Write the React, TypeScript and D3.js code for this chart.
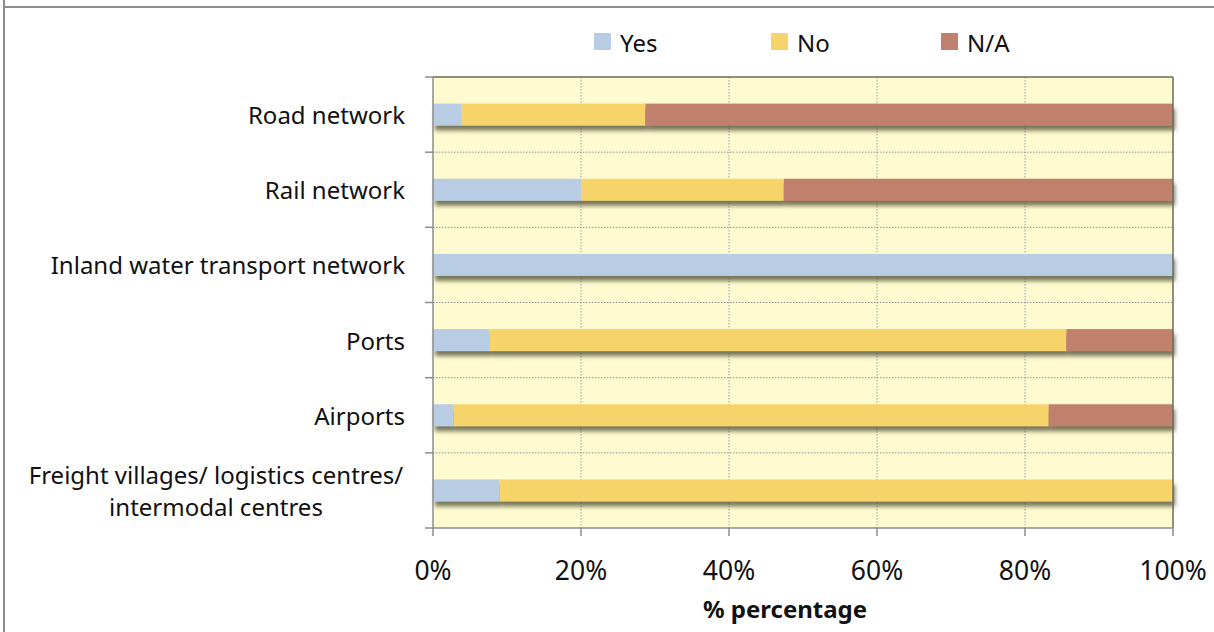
import React from "react";
import * as d3 from "d3";

const categories = [
  "Road network",
  "Rail network",
  "Inland water transport network",
  "Ports",
  "Airports",
  "Freight villages/ logistics centres/ intermodal centres",
];
const categoryLines: string[][] = [
  ["Road network"],
  ["Rail network"],
  ["Inland water transport network"],
  ["Ports"],
  ["Airports"],
  ["Freight villages/ logistics centres/", "intermodal centres"],
];
const seriesNames = ["Yes", "No", "N/A"];
const yesValues = [3.8, 20.0, 100, 7.6, 2.8, 9.0];
const noValues = [24.9, 27.4, 0, 78.0, 80.4, 91.0];
const naValues = [71.3, 52.6, 0, 14.4, 16.8, 0];
const xTicks = [0, 20, 40, 60, 80, 100];
const colors = ["#b8cce4", "#f6d46b", "#c0806e"];

const W = 1214;
const H = 632;
const M = { left: 433, right: 1173, top: 77, bottom: 528 };
const FONT = "'Noto Sans', sans-serif";

export default function App() {
  const x = d3.scaleLinear().domain([0, 100]).range([M.left, M.right]);
  const y = d3.scaleBand<string>().domain(categories).range([M.top, M.bottom]);
  const rows = categories.map((c, i) => ({
    cat: c,
    Yes: yesValues[i],
    No: noValues[i],
    "N/A": naValues[i],
  }));
  const stacked = d3.stack<any>().keys(seriesNames)(rows);
  const barH = 22;
  const boundaries = categories.map((c) => y(c)!).concat([M.bottom]);

  return (
    <svg
      width={W}
      height={H}
      style={{ position: "absolute", left: 0, top: 0, background: "#fff" }}
      fontFamily={FONT}
    >
      <defs>
        <filter id="shadow" x="-5%" y="-50%" width="110%" height="200%">
          <feDropShadow dx="2" dy="5" stdDeviation="2" floodColor="#4a4a30" floodOpacity="0.75" />
        </filter>
      </defs>
      {/* outer frame */}
      <line x1={4} y1={0} x2={4} y2={H} stroke="#8c8c8c" strokeWidth={2} />
      <line x1={4} y1={7} x2={W} y2={7} stroke="#8c8c8c" strokeWidth={2} />

      {/* plot background */}
      <rect x={M.left} y={M.top} width={M.right - M.left} height={M.bottom - M.top} fill="#fffbd0" />

      {/* vertical gridlines */}
      {xTicks.slice(1, -1).map((t) => (
        <line key={"vg" + t} x1={x(t)} x2={x(t)} y1={M.top} y2={M.bottom} stroke="#a0a0a0" strokeDasharray="1.5,1.5" />
      ))}
      {/* horizontal gridlines */}
      {boundaries.slice(1, -1).map((b, i) => (
        <line key={"hg" + i} x1={M.left} x2={M.right} y1={b} y2={b} stroke="#909090" strokeDasharray="1.5,1.5" />
      ))}

      {/* bars */}
      <g filter="url(#shadow)">
        {stacked.map((s, si) =>
          s.map((d, i) => {
            const w = x(d[1]) - x(d[0]);
            if (w <= 0) return null;
            const yc = y(categories[i])! + y.bandwidth() / 2;
            return (
              <rect
                key={si + "-" + i}
                x={x(d[0])}
                y={yc - barH / 2}
                width={w}
                height={barH}
                fill={colors[si]}
              />
            );
          })
        )}
      </g>

      {/* plot border top/right */}
      <line x1={M.left} x2={M.right} y1={M.top} y2={M.top} stroke="#6b6b55" strokeWidth={1.5} />
      <line x1={M.right} x2={M.right} y1={M.top} y2={M.bottom} stroke="#6b6b55" strokeWidth={1.5} />

      {/* y axis */}
      <line x1={M.left} x2={M.left} y1={M.top} y2={M.bottom} stroke="#8c8c8c" strokeWidth={1.5} />
      {boundaries.map((b, i) => (
        <line key={"yt" + i} x1={M.left - 8} x2={M.left} y1={b} y2={b} stroke="#8c8c8c" strokeWidth={1.5} />
      ))}
      {/* x axis */}
      <line x1={M.left} x2={M.right} y1={M.bottom} y2={M.bottom} stroke="#8c8c8c" strokeWidth={1.5} />
      {xTicks.map((t) => (
        <line key={"xt" + t} x1={x(t)} x2={x(t)} y1={M.bottom} y2={M.bottom + 8} stroke="#8c8c8c" strokeWidth={1.5} />
      ))}
      {xTicks.map((t) => (
        <text key={"xl" + t} x={x(t)} y={570} textAnchor="middle" fontSize={26.5} dominantBaseline="central" fill="#111">
          {t + "%"}
        </text>
      ))}
      <text x={785} y={608} textAnchor="middle" fontSize={24} fontWeight="bold" dominantBaseline="central" fill="#111">
        % percentage
      </text>

      {/* category labels */}
      {categoryLines.map((lines, i) => {
        const yc = y(categories[i])! + y.bandwidth() / 2;
        const lh = 32;
        const multi = lines.length > 1;
        return (
          <text key={"cl" + i} textAnchor={multi ? "middle" : "end"} fontSize={24} fill="#111">
            {lines.map((ln, j) => (
              <tspan
                key={j}
                x={multi ? 216 : 405}
                y={yc + (j - (lines.length - 1) / 2) * lh}
                dominantBaseline="central"
              >
                {ln}
              </tspan>
            ))}
          </text>
        );
      })}

      {/* legend */}
      {seriesNames.map((n, i) => {
        const lx = [594, 771, 941][i];
        return (
          <g key={"lg" + n}>
            <rect x={lx} y={33} width={17} height={17} fill={colors[i]} />
            <text x={lx + 26} y={42} fontSize={24} dominantBaseline="central" fill="#111">
              {n}
            </text>
          </g>
        );
      })}
    </svg>
  );
}
